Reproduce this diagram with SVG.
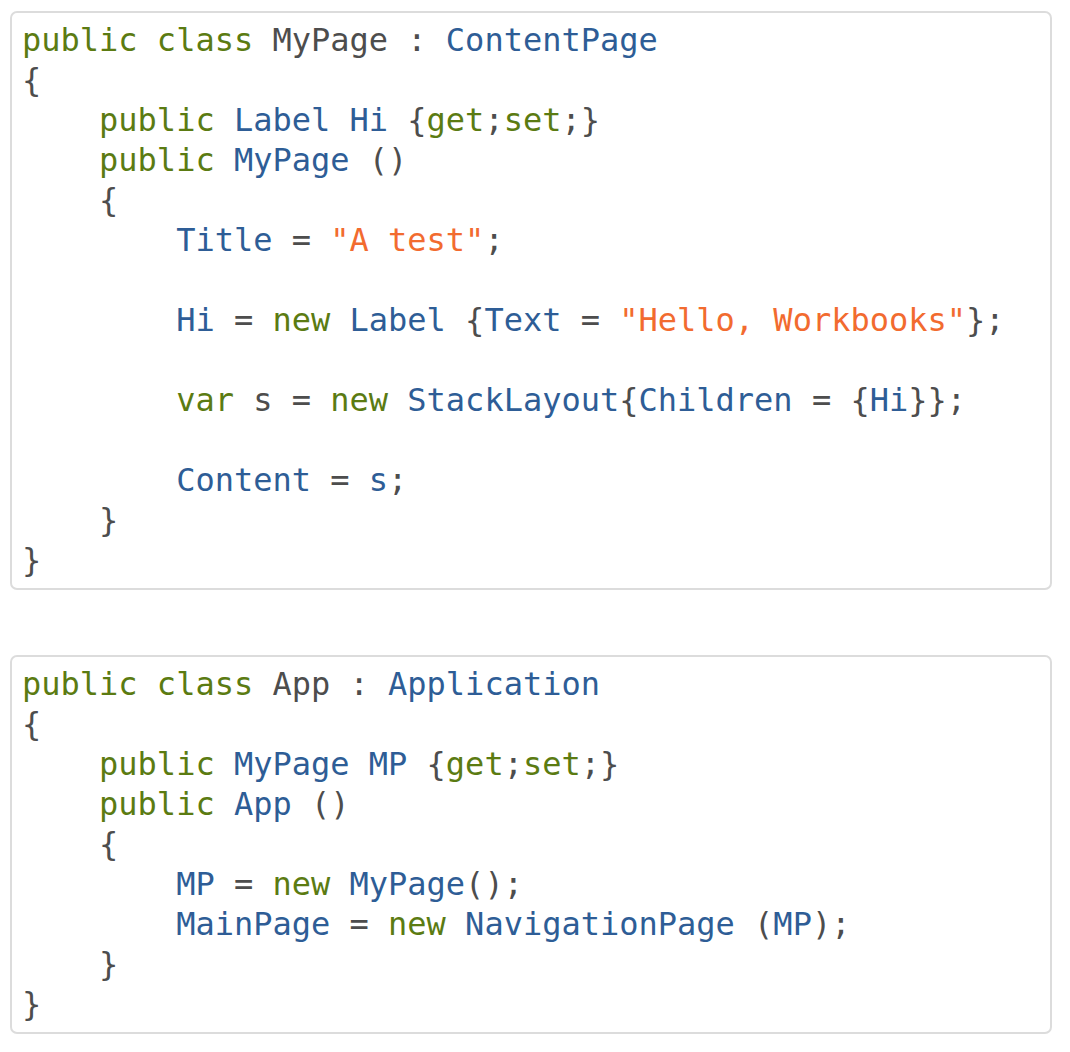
<svg xmlns="http://www.w3.org/2000/svg" width="1070" height="1052" viewBox="0 0 1070 1052">
<style>
text{font-family:"DejaVu Sans Mono",monospace;font-size:32px;fill:#4d4d4d;white-space:pre}
.k{fill:#5b7b12}.t{fill:#2e5d96}.s{fill:#f26b2f}
.box{fill:#fff;stroke:#dcdcdc;stroke-width:2}
</style>
<rect width="1070" height="1052" fill="#fff"/>
<g id="code1">
<rect class="box" x="11" y="12" width="1040" height="577" rx="6"/>
<text x="22" y="51" xml:space="preserve"><tspan class="k">public class</tspan> MyPage : <tspan class="t">ContentPage</tspan></text>
<text x="22" y="91">{</text>
<text x="22" y="131" xml:space="preserve">    <tspan class="k">public</tspan> <tspan class="t">Label Hi</tspan> {<tspan class="k">get</tspan>;<tspan class="k">set</tspan>;}</text>
<text x="22" y="171" xml:space="preserve">    <tspan class="k">public</tspan> <tspan class="t">MyPage</tspan> ()</text>
<text x="22" y="211" xml:space="preserve">    {</text>
<text x="22" y="251" xml:space="preserve">        <tspan class="t">Title</tspan> = <tspan class="s">"A test"</tspan>;</text>
<text x="22" y="331" xml:space="preserve">        <tspan class="t">Hi</tspan> = <tspan class="k">new</tspan> <tspan class="t">Label</tspan> {<tspan class="t">Text</tspan> = <tspan class="s">"Hello, Workbooks"</tspan>};</text>
<text x="22" y="411" xml:space="preserve">        <tspan class="k">var</tspan> s = <tspan class="k">new</tspan> <tspan class="t">StackLayout</tspan>{<tspan class="t">Children</tspan> = {<tspan class="t">Hi</tspan>}};</text>
<text x="22" y="491" xml:space="preserve">        <tspan class="t">Content</tspan> = <tspan class="t">s</tspan>;</text>
<text x="22" y="531" xml:space="preserve">    }</text>
<text x="22" y="571">}</text>
</g>
<g id="code2">
<rect class="box" x="11" y="656" width="1040" height="377" rx="6"/>
<text x="22" y="695" xml:space="preserve"><tspan class="k">public class</tspan> App : <tspan class="t">Application</tspan></text>
<text x="22" y="735">{</text>
<text x="22" y="775" xml:space="preserve">    <tspan class="k">public</tspan> <tspan class="t">MyPage MP</tspan> {<tspan class="k">get</tspan>;<tspan class="k">set</tspan>;}</text>
<text x="22" y="815" xml:space="preserve">    <tspan class="k">public</tspan> <tspan class="t">App</tspan> ()</text>
<text x="22" y="855" xml:space="preserve">    {</text>
<text x="22" y="895" xml:space="preserve">        <tspan class="t">MP</tspan> = <tspan class="k">new</tspan> <tspan class="t">MyPage</tspan>();</text>
<text x="22" y="935" xml:space="preserve">        <tspan class="t">MainPage</tspan> = <tspan class="k">new</tspan> <tspan class="t">NavigationPage</tspan> (<tspan class="t">MP</tspan>);</text>
<text x="22" y="975" xml:space="preserve">    }</text>
<text x="22" y="1015">}</text>
</g>
</svg>
